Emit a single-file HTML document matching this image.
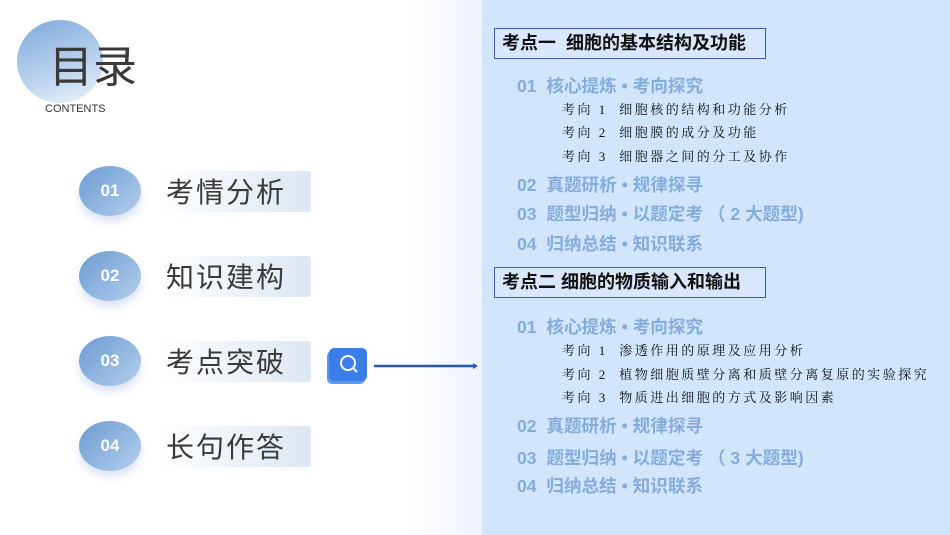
<!DOCTYPE html>
<html><head><meta charset="utf-8"><style>
*{margin:0;padding:0;box-sizing:border-box}
body{width:950px;height:535px;overflow:hidden;background:#fff;position:relative;font-family:"Liberation Sans","Noto Sans CJK SC",sans-serif}
.a{position:absolute;white-space:nowrap}
.bg{position:absolute;left:0;top:0;width:482px;height:535px;background:linear-gradient(90deg,#fff 0%,#fff 85%,#eef3fd 100%)}
.panel{position:absolute;left:482px;top:0;width:468px;height:535px;background:#d1e5fc}
.big{left:17px;top:20px;width:86px;height:83px;border-radius:50%;background:linear-gradient(160deg,#7ea9da 0%,#bcd4ef 60%,#eef4fb 100%)}
.ov{position:absolute;left:79px;width:62px;height:50px;border-radius:50%;background:linear-gradient(135deg,#6b9bd2,#b5cfee);box-shadow:0 6px 8px rgba(140,170,220,.3);color:#fff;font-weight:bold;font-size:17px;text-align:center;line-height:50px}
.lb{position:absolute;left:158px;width:153px;height:41px;border-radius:3px;background:linear-gradient(90deg,rgba(230,238,248,0),#dce7f4)}
.lt{position:absolute;left:166px;font-size:28px;color:#3a3a3a;letter-spacing:2px;line-height:41px}
.hd{position:absolute;left:494px;width:272px;height:31px;border:1.5px solid #3b5faa;background:#d8e7fb;font-weight:bold;font-size:18px;color:#111;line-height:28px;padding-left:7px}
.bl{position:absolute;left:517px;font-size:17.6px;font-weight:bold;color:#84addb;line-height:20px}
.sb{position:absolute;left:562px;font-size:13px;color:#111;font-family:"Liberation Serif","Noto Serif CJK SC",serif;letter-spacing:2.5px;line-height:16px}
</style></head><body>
<div class="bg"></div>
<div class="a big"></div>
<div class="a" style="left:49px;top:42px;font-size:44px;color:#3a3a3a;line-height:52px">目录</div>
<div class="a" style="left:45px;top:103px;font-size:11px;color:#333">CONTENTS</div>

<div class="lb" style="top:171px"></div><div class="ov" style="top:166px">01</div><div class="lt" style="top:172px">考情分析</div>
<div class="lb" style="top:256px"></div><div class="ov" style="top:251px">02</div><div class="lt" style="top:257px">知识建构</div>
<div class="lb" style="top:341px"></div><div class="ov" style="top:336px">03</div><div class="lt" style="top:342px">考点突破</div>
<div class="lb" style="top:426px"></div><div class="ov" style="top:421px">04</div><div class="lt" style="top:427px">长句作答</div>

<div class="a" style="left:329px;top:348px;width:38px;height:33px;border-radius:5px;background:#3b7ee9;box-shadow:-2px 3px 0 #5a98f0"></div>
<svg class="a" style="left:329px;top:346px" width="40" height="36"><circle cx="19" cy="17" r="7" fill="none" stroke="#fff" stroke-width="2"/><line x1="24" y1="22" x2="28" y2="26" stroke="#fff" stroke-width="2"/></svg>
<svg class="a" style="left:372px;top:360px" width="110" height="12"><line x1="2" y1="6" x2="102" y2="6" stroke="#2d55b8" stroke-width="2.5"/><path d="M101 3 L106 6 L101 9 Z" fill="#2d55b8"/></svg>

<div class="panel"></div>
<div class="hd" style="top:28px">考点一&nbsp;&nbsp;细胞的基本结构及功能</div>
<div class="bl" style="top:76px">01&nbsp;&nbsp;核心提炼 • 考向探究</div>
<div class="sb" style="top:102px">考向 1&nbsp;&nbsp;细胞核的结构和功能分析</div>
<div class="sb" style="top:125px">考向 2&nbsp;&nbsp;细胞膜的成分及功能</div>
<div class="sb" style="top:149px">考向 3&nbsp;&nbsp;细胞器之间的分工及协作</div>
<div class="bl" style="top:175px">02&nbsp;&nbsp;真题研析 • 规律探寻</div>
<div class="bl" style="top:204px">03&nbsp;&nbsp;题型归纳 • 以题定考 （ 2 大题型)</div>
<div class="bl" style="top:234px">04&nbsp;&nbsp;归纳总结 • 知识联系</div>

<div class="hd" style="top:267px;width:272px">考点二 细胞的物质输入和输出</div>
<div class="bl" style="top:317px">01&nbsp;&nbsp;核心提炼 • 考向探究</div>
<div class="sb" style="top:343px">考向 1&nbsp;&nbsp;渗透作用的原理及应用分析</div>
<div class="sb" style="top:367px">考向 2&nbsp;&nbsp;植物细胞质壁分离和质壁分离复原的实验探究</div>
<div class="sb" style="top:390px">考向 3&nbsp;&nbsp;物质进出细胞的方式及影响因素</div>
<div class="bl" style="top:416px">02&nbsp;&nbsp;真题研析 • 规律探寻</div>
<div class="bl" style="top:448px">03&nbsp;&nbsp;题型归纳 • 以题定考 （ 3 大题型)</div>
<div class="bl" style="top:476px">04&nbsp;&nbsp;归纳总结 • 知识联系</div>
</body></html>
